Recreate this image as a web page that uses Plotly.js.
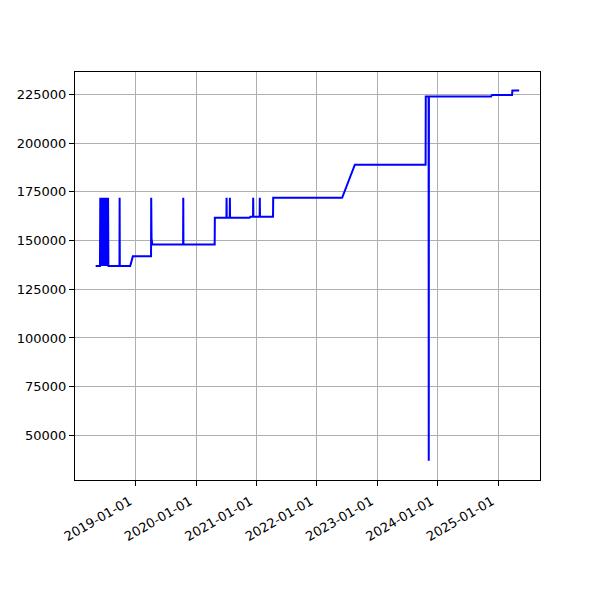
<!DOCTYPE html>
<html>
<head>
<meta charset="utf-8">
<script src="https://cdn.plot.ly/plotly-3.0.1.min.js"></script>
<style>html,body{margin:0;padding:0;background:#fff;}#chart{width:600px;height:600px;}</style>
</head>
<body>
<div id="chart"></div>
<script>
// Data
var dates = [
  '2018-05-04','2018-05-30',
  '2018-06-01','2018-06-04','2018-06-07','2018-06-10','2018-06-13','2018-06-16',
  '2018-06-19','2018-06-22','2018-06-25','2018-06-28','2018-07-01','2018-07-04',
  '2018-07-07','2018-07-10','2018-07-13','2018-07-16','2018-07-18','2018-07-20',
  '2018-09-25','2018-09-26','2018-09-27',
  '2018-11-29','2018-12-15',
  '2019-04-04','2019-04-05','2019-04-07','2019-04-12',
  '2019-10-15','2019-10-16','2019-10-17',
  '2020-04-23','2020-04-24',
  '2020-07-03','2020-07-04','2020-07-05',
  '2020-07-23','2020-07-24','2020-07-25',
  '2020-11-20','2020-11-25',
  '2020-12-11','2020-12-12','2020-12-13',
  '2021-01-20','2021-01-21','2021-01-22',
  '2021-04-11','2021-04-12',
  '2022-06-03','2022-08-19',
  '2023-10-21','2023-10-22',
  '2023-11-08','2023-11-09','2023-11-10',
  '2024-11-20','2024-11-26',
  '2025-03-27','2025-03-29','2025-05-09'
];
var values = [
  137000,137000,
  172000,137000,172000,137000,172000,137000,
  172000,137000,172000,137000,172000,137000,
  172000,137000,172000,137000,172000,137000,
  137000,172000,137000,
  137000,142000,
  142000,172000,151000,148000,
  148000,172000,148000,
  148000,161700,
  161700,172000,161700,
  161700,172000,161700,
  161700,162200,
  162200,172000,162200,
  162200,172000,162200,
  162200,172000,
  172000,189000,
  189000,224000,
  224000,37000,224000,
  224000,224800,
  224800,227100,227100
];
var xTickVals = ['2019-01-01','2020-01-01','2021-01-01','2022-01-01','2023-01-01','2024-01-01','2025-01-01'];
var xTickText = ['2019-01-01','2020-01-01','2021-01-01','2022-01-01','2023-01-01','2024-01-01','2025-01-01'];
var yTickVals = [50000,75000,100000,125000,150000,175000,200000,225000];
var yTickText = ['50000','75000','100000','125000','150000','175000','200000','225000'];

var trace = {
  x: dates, y: values, type: 'scatter', mode: 'lines',
  line: {color: '#0000ff', width: 2},
  hoverinfo: 'skip'
};
var axisCommon = {
  showgrid: true, gridcolor: '#b0b0b0', gridwidth: 1,
  showline: true, mirror: true, linecolor: '#000', linewidth: 1,
  ticks: 'outside', ticklen: 5, tickwidth: 1, tickcolor: '#000',
  zeroline: false, tickfont: {family: 'DejaVu Sans', size: 13, color: '#000'}
};
var layout = {
  width: 600, height: 600,
  margin: {l: 75, r: 60, t: 72, b: 120, pad: 0},
  paper_bgcolor: '#fff', plot_bgcolor: '#fff',
  showlegend: false,
  font: {family: 'DejaVu Sans', size: 13, color: '#000'},
  xaxis: Object.assign({}, axisCommon, {
    type: 'date', range: ['2017-12-30', '2025-09-12'],
    tickmode: 'array', tickvals: xTickVals, ticktext: xTickText,
    tickangle: -30, ticklabelshift: -6, ticklabelstandoff: 3
  }),
  yaxis: Object.assign({}, axisCommon, {
    range: [27100, 236550],
    tickmode: 'array', tickvals: yTickVals, ticktext: yTickText
  })
};
Plotly.newPlot('chart', [trace], layout, {staticPlot: true, displayModeBar: false});
</script>
</body>
</html>
